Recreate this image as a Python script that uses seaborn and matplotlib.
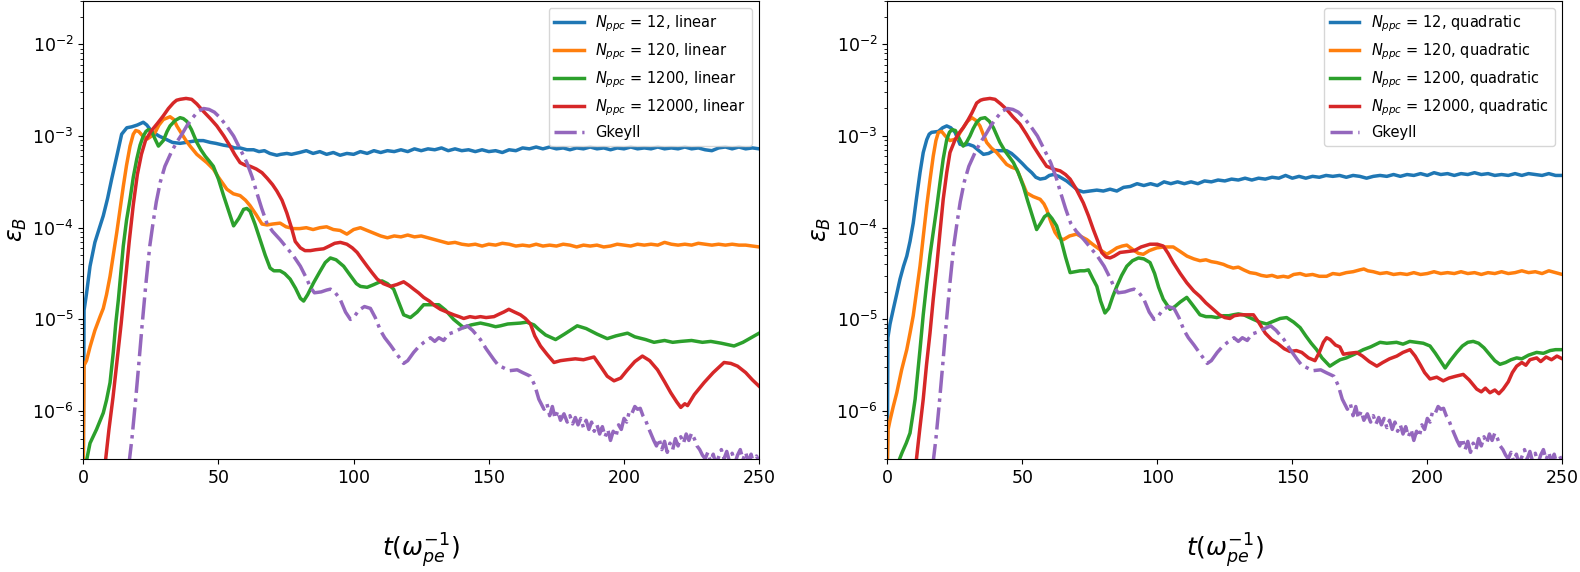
import numpy as np
import matplotlib
matplotlib.use('Agg')
import matplotlib.pyplot as plt
import seaborn as sns

# ── Data: (t, log10 eps_B) ─────────────────────────────────────────────────────
BLUE_LIN = [
    (0, -6.6), (0.3, -4.9), (1.2, -4.72), (2.5, -4.42), (4.3, -4.16), (6, -4.0),
    (7.4, -3.87), (9, -3.68), (10.5, -3.47), (12.4, -3.22), (14.2, -2.98),
    (16.1, -2.91), (17.9, -2.90), (20, -2.88), (22.2, -2.85), (23.5, -2.88),
    (25.3, -2.95), (28, -3.0), (30.9, -3.04), (33, -3.07), (35.8, -3.08),
    (38, -3.07), (40, -3.06), (42, -3.05), (44.4, -3.05), (47, -3.07), (49, -3.08),
    (51.9, -3.10), (54, -3.11), (56, -3.13), (58, -3.13), (60.5, -3.15), (63, -3.15),
    (65, -3.17), (67, -3.16), (69, -3.19), (71.6, -3.21), (73, -3.20), (75.3, -3.19),
    (77, -3.20), (80, -3.18), (82.5, -3.16), (85, -3.19), (87.5, -3.17), (90, -3.20),
    (92.5, -3.18), (95, -3.21), (97.5, -3.19), (100, -3.20), (102.5, -3.17),
    (105, -3.19), (107.5, -3.16), (110, -3.18), (112.5, -3.16), (115, -3.17),
    (117.5, -3.15), (120, -3.17), (122.5, -3.14), (125, -3.16), (127.5, -3.14),
    (130, -3.15), (132.5, -3.13), (135, -3.16), (137.5, -3.14), (140, -3.16),
    (142.5, -3.15), (145, -3.17), (147.5, -3.15), (150, -3.17), (152.5, -3.16),
    (155, -3.18), (157.5, -3.15), (160, -3.16), (162.5, -3.13), (165, -3.14),
    (167.5, -3.12), (170, -3.14), (172.5, -3.12), (175, -3.14), (177.5, -3.13),
    (180, -3.15), (182.5, -3.13), (185, -3.14), (187.5, -3.12), (190, -3.14),
    (192.5, -3.13), (195, -3.15), (197.5, -3.13), (200, -3.14), (202.5, -3.12),
    (205, -3.14), (207.5, -3.13), (210, -3.14), (212.5, -3.12), (215, -3.14),
    (217.5, -3.13), (220, -3.14), (222.5, -3.12), (225, -3.14), (227.5, -3.13),
    (230, -3.15), (232.5, -3.16), (235, -3.13), (237.5, -3.12), (240, -3.14),
    (242.5, -3.12), (245, -3.14), (247.5, -3.13), (250, -3.14),
]

ORANGE_LIN = [
    (0, -6.6), (0.3, -5.5), (1.2, -5.45), (2.5, -5.3), (4.3, -5.12), (6.2, -4.97),
    (7.4, -4.88), (8.6, -4.73), (9.9, -4.53), (11.1, -4.3), (12.4, -4.05),
    (13.6, -3.8), (14.8, -3.55), (16, -3.32), (17.3, -3.11), (18.5, -2.98),
    (19.4, -2.94), (20.5, -2.95), (22, -3.0), (23.8, -3.03), (25.3, -3.0),
    (26.6, -2.96), (28, -2.88), (29.6, -2.82), (32.1, -2.79), (33.5, -2.82),
    (34.6, -2.89), (36.5, -2.98), (38, -3.05), (39.5, -3.11), (42, -3.2),
    (45.7, -3.29), (48.1, -3.36), (50, -3.45), (53.1, -3.58), (55.5, -3.63),
    (58, -3.65), (60, -3.70), (61.7, -3.76), (64, -3.86), (66.1, -3.96), (68, -3.97),
    (70, -3.96), (72.8, -3.95), (75, -3.99), (77.8, -4.01), (80, -4.01),
    (82.5, -4.00), (85, -4.02), (87.5, -4.00), (90, -3.99), (92.5, -4.02),
    (95, -4.03), (97.5, -4.07), (100, -4.02), (102.5, -4.00), (105, -4.03),
    (107.5, -4.06), (110, -4.09), (112.5, -4.11), (115, -4.09), (117.5, -4.10),
    (120, -4.08), (122.5, -4.10), (125, -4.09), (127.5, -4.11), (130, -4.13),
    (132.5, -4.15), (135, -4.17), (137.5, -4.16), (140, -4.18), (142.5, -4.19),
    (145, -4.18), (147.5, -4.20), (150, -4.18), (152.5, -4.19), (155, -4.17),
    (157.5, -4.18), (160, -4.20), (162.5, -4.19), (165, -4.20), (167.5, -4.18),
    (170, -4.20), (172.5, -4.19), (175, -4.20), (177.5, -4.18), (180, -4.19),
    (182.5, -4.21), (185, -4.19), (187.5, -4.20), (190, -4.19), (192.5, -4.21),
    (195, -4.20), (197.5, -4.18), (200, -4.19), (202.5, -4.20), (205, -4.18),
    (207.5, -4.19), (210, -4.18), (212.5, -4.19), (215, -4.16), (217.5, -4.18),
    (220, -4.19), (222.5, -4.18), (225, -4.19), (227.5, -4.17), (230, -4.18),
    (232.5, -4.19), (235, -4.18), (237.5, -4.19), (240, -4.18), (242.5, -4.19),
    (245, -4.19), (247.5, -4.20), (250, -4.21),
]

GREEN_LIN = [
    (0.8, -6.6), (2.5, -6.35), (4.9, -6.2), (7.4, -6.02), (8.6, -5.88), (9.9, -5.69),
    (11.1, -5.36), (12, -5.05), (13.0, -4.78), (14.8, -4.20), (16, -3.92),
    (17.3, -3.69), (18.5, -3.45), (19.8, -3.25), (21, -3.1), (22.2, -3.0),
    (23.2, -2.95), (24.1, -2.93), (25.3, -2.95), (26.5, -3.03), (27.8, -3.11),
    (29.6, -3.05), (31, -2.95), (32.1, -2.89), (34, -2.83), (35.8, -2.80),
    (37, -2.81), (38.3, -2.84), (40, -2.93), (42, -3.07), (43.5, -3.15),
    (45.1, -3.22), (46.5, -3.27), (48.1, -3.33), (50, -3.47), (51.9, -3.65),
    (53.8, -3.82), (55.6, -3.98), (57.5, -3.90), (59.3, -3.80), (60.5, -3.79),
    (61.7, -3.82), (63.5, -3.96), (65.4, -4.13), (67.3, -4.30), (69.1, -4.44),
    (70.5, -4.47), (72.8, -4.47), (74.5, -4.50), (76.5, -4.56), (78.5, -4.66),
    (80.3, -4.77), (81.5, -4.80), (83, -4.73), (85.2, -4.60), (87.5, -4.48),
    (89.5, -4.38), (91.4, -4.33), (93.5, -4.35), (96.3, -4.42), (99, -4.53),
    (101, -4.61), (102.5, -4.64), (105, -4.65), (107.5, -4.62), (110.5, -4.58),
    (112.5, -4.61), (114.8, -4.67), (116.5, -4.80), (118.5, -4.95), (121, -4.98),
    (123.5, -4.92), (125.9, -4.84), (128.5, -4.84), (131.5, -4.84), (134, -4.90),
    (137, -5.0), (140.7, -5.09), (143.5, -5.06), (146.9, -5.04), (150, -5.06),
    (152.5, -5.08), (154.3, -5.07), (157, -5.05), (161.7, -5.04), (164, -5.03),
    (166.7, -5.06), (168.5, -5.11), (171, -5.17), (174.7, -5.22), (178, -5.16),
    (182.7, -5.07), (186, -5.10), (190, -5.16), (193.8, -5.21), (197, -5.18),
    (201.3, -5.15), (204, -5.19), (208, -5.22), (211.1, -5.25), (215, -5.23),
    (218, -5.25), (221, -5.24), (225, -5.23), (229, -5.25), (232.1, -5.24),
    (236, -5.26), (240.7, -5.29), (244, -5.25), (247, -5.20), (250, -5.15),
]

RED_LIN = [
    (8.0, -6.6), (9.5, -6.2), (11, -5.85), (12.5, -5.45), (14, -5.05), (15.5, -4.6),
    (17, -4.15), (18.5, -3.75), (20, -3.42), (21.5, -3.2), (23, -3.05),
    (25, -2.95), (27.5, -2.86), (29.6, -2.78), (31.5, -2.70), (33.3, -2.64),
    (34.5, -2.61), (35.8, -2.60), (38, -2.59), (40.1, -2.60), (42, -2.65),
    (44.4, -2.73), (47, -2.81), (49.4, -2.89), (52, -3.0), (54.3, -3.11),
    (56, -3.2), (58, -3.29), (60, -3.32), (61.7, -3.33), (64, -3.36), (66.1, -3.40),
    (68, -3.46), (70, -3.53), (71.6, -3.60), (73.5, -3.70), (75.3, -3.84),
    (77, -4.00), (78.4, -4.15), (80.3, -4.22), (82, -4.25), (84, -4.25),
    (86, -4.24), (88.9, -4.23), (91, -4.20), (93, -4.17), (95.1, -4.16),
    (97.5, -4.18), (99.5, -4.22), (101.3, -4.27), (103, -4.34), (105, -4.42),
    (106.8, -4.49), (108.7, -4.56), (111, -4.61), (113.6, -4.64), (116, -4.62),
    (118.5, -4.59), (120.5, -4.63), (122.2, -4.67), (124, -4.71), (125.9, -4.76),
    (128, -4.80), (130, -4.85), (132.1, -4.89), (134.5, -4.92), (137, -4.95),
    (139, -4.97), (140.7, -4.99), (143, -4.97), (145, -4.98), (146.9, -4.97),
    (149, -4.98), (151.9, -4.97), (154, -4.94), (155.5, -4.92), (157.4, -4.89),
    (159.5, -4.92), (161.7, -4.95), (163.5, -4.99), (165.4, -5.05), (167, -5.18),
    (169.1, -5.29), (171.5, -5.38), (174.1, -5.47), (176.5, -5.45), (179, -5.44),
    (182, -5.43), (185, -5.44), (188.9, -5.41), (191.5, -5.52), (193.8, -5.62),
    (196.3, -5.67), (198.8, -5.64), (201, -5.56), (204, -5.46), (206.8, -5.40),
    (209.5, -5.45), (212.4, -5.55), (215, -5.68), (217.3, -5.80), (219.5, -5.90),
    (221, -5.96), (222.5, -5.92), (223.5, -5.94), (226, -5.82), (229.6, -5.69),
    (233, -5.58), (237, -5.47), (239.5, -5.48), (242, -5.51), (245, -5.58),
    (247.5, -5.66), (250, -5.73),
]

BLUE_QUAD = [
    (0, -6.6), (0.2, -5.2), (1, -5.05), (2.2, -4.89), (3.5, -4.72), (4.7, -4.56),
    (6, -4.42), (7.2, -4.31), (8.4, -4.15), (9.6, -3.95), (10.8, -3.68),
    (12.1, -3.40), (13.3, -3.18), (14.6, -3.04), (15.5, -2.98), (16.4, -2.96),
    (18.9, -2.95), (20.5, -2.91), (22, -2.89), (23.5, -2.91), (25.1, -2.96),
    (26.9, -3.09), (28.5, -3.10), (30, -3.09), (31.9, -3.11), (33.5, -3.15),
    (35.6, -3.20), (37.5, -3.19), (39.3, -3.16), (42, -3.16), (44.2, -3.16),
    (46, -3.19), (47.9, -3.24), (50, -3.30), (51.6, -3.35), (53.5, -3.40),
    (55, -3.45), (56.6, -3.47), (58.5, -3.46), (60, -3.43), (61.5, -3.42),
    (63.5, -3.44), (66.4, -3.49), (68.5, -3.54), (70.5, -3.59), (72.6, -3.61),
    (75, -3.60), (77.6, -3.59), (80, -3.60), (82.5, -3.58), (85, -3.60),
    (87.5, -3.56), (90, -3.55), (92.5, -3.52), (95, -3.54), (97.5, -3.52),
    (100, -3.54), (102.5, -3.50), (105, -3.52), (107.5, -3.50), (110, -3.52),
    (112.5, -3.50), (115, -3.52), (117.5, -3.49), (120, -3.50), (122.5, -3.48),
    (125, -3.49), (127.5, -3.47), (130, -3.48), (132.5, -3.46), (135, -3.48),
    (137.5, -3.46), (140, -3.47), (142.5, -3.45), (145, -3.46), (147.5, -3.43),
    (150, -3.46), (152.5, -3.44), (155, -3.46), (157.5, -3.44), (160, -3.45),
    (162.5, -3.43), (165, -3.44), (167.5, -3.43), (170, -3.45), (172.5, -3.43),
    (175, -3.44), (177.5, -3.46), (180, -3.44), (182.5, -3.43), (185, -3.44),
    (187.5, -3.42), (190, -3.44), (192.5, -3.42), (195, -3.43), (197.5, -3.41),
    (200, -3.43), (202.5, -3.40), (205, -3.42), (207.5, -3.41), (210, -3.43),
    (212.5, -3.41), (215, -3.42), (217.5, -3.40), (220, -3.42), (222.5, -3.41),
    (225, -3.43), (227.5, -3.42), (230, -3.43), (232.5, -3.41), (235, -3.43),
    (237.5, -3.41), (240, -3.42), (242.5, -3.43), (245, -3.41), (247.5, -3.43),
    (250, -3.43),
]

ORANGE_QUAD = [
    (0, -6.6), (0.3, -6.2), (1.0, -6.1), (2.2, -5.95), (3.5, -5.80), (5.3, -5.55),
    (7.2, -5.33), (8.4, -5.15), (9.6, -4.96), (10.8, -4.70), (12.1, -4.42),
    (13.3, -4.1), (14.6, -3.76), (15.8, -3.48), (17.0, -3.22), (18, -3.05),
    (18.9, -2.96), (20.1, -2.95), (21.5, -3.0), (23.2, -3.05), (25.7, -3.03),
    (27, -2.96), (28.1, -2.91), (29.7, -2.84), (31.3, -2.80), (32.8, -2.83),
    (34.3, -2.89), (35.5, -2.98), (36.8, -3.07), (38.5, -3.13), (40.5, -3.18),
    (42.5, -3.25), (44.2, -3.31), (46, -3.34), (47.9, -3.36), (49.5, -3.47),
    (51.6, -3.62), (54, -3.66), (56.6, -3.69), (58, -3.74), (59, -3.80),
    (60.5, -3.93), (62.1, -4.05), (63.5, -4.11), (65.2, -4.13), (67.5, -4.09),
    (70.1, -4.07), (72, -4.10), (73.9, -4.13), (76, -4.18), (78.8, -4.24),
    (81.3, -4.29), (83.5, -4.25), (85, -4.22), (87, -4.20), (88.7, -4.19),
    (91, -4.24), (93, -4.28), (94.8, -4.29), (97, -4.25), (99.8, -4.22),
    (102.5, -4.21), (105.9, -4.21), (108.5, -4.26), (111, -4.31), (113.5, -4.34),
    (115.8, -4.36), (118, -4.35), (120, -4.37), (122, -4.38), (124.5, -4.40),
    (126, -4.42), (128.1, -4.44), (130, -4.43), (132, -4.46), (134.3, -4.49),
    (136.5, -4.50), (138.5, -4.52), (140.5, -4.53), (142.5, -4.52), (144.5, -4.54),
    (146.7, -4.53), (148.5, -4.54), (150.5, -4.51), (152.9, -4.50), (155, -4.52),
    (157.5, -4.51), (160, -4.53), (162.7, -4.53), (165, -4.50), (167.5, -4.51),
    (170, -4.49), (172.5, -4.48), (175, -4.46), (176.5, -4.45), (178, -4.47),
    (180, -4.48), (182.5, -4.50), (185, -4.49), (187.5, -4.51), (190, -4.50),
    (192.5, -4.51), (195, -4.49), (197.5, -4.51), (200, -4.50), (202.5, -4.48),
    (205, -4.50), (207.5, -4.49), (210, -4.50), (212.5, -4.48), (215, -4.50),
    (217.5, -4.49), (220, -4.51), (222.5, -4.49), (225, -4.50), (227.5, -4.48),
    (230, -4.50), (232.5, -4.49), (235, -4.47), (237.5, -4.49), (240, -4.48),
    (242.5, -4.50), (245, -4.47), (247.5, -4.49), (250, -4.51),
]

GREEN_QUAD = [
    (3.5, -6.6), (5.5, -6.45), (7, -6.35), (8.4, -6.24), (9.4, -6.05), (10.3, -5.87),
    (11.2, -5.6), (12.1, -5.33), (13.3, -4.95), (14.6, -4.60), (15.8, -4.3),
    (17.0, -4.05), (18.3, -3.78), (19.5, -3.51), (20.7, -3.25), (22.0, -3.04),
    (23, -2.96), (23.9, -2.93), (25.2, -2.94), (26.5, -3.02), (28.1, -3.11),
    (29.3, -3.07), (30.6, -3.0), (31.8, -2.92), (33.1, -2.85), (34.5, -2.81),
    (36.2, -2.80), (37.8, -2.84), (39.3, -2.91), (40.5, -2.99), (41.7, -3.07),
    (43.5, -3.16), (45, -3.22), (46.7, -3.29), (48.5, -3.40), (50.4, -3.55),
    (52, -3.71), (53.8, -3.88), (55.3, -4.02), (56.8, -3.95), (58.2, -3.88),
    (59.6, -3.85), (61, -3.90), (62.7, -3.98), (64.5, -4.15), (66, -4.32),
    (67.7, -4.49), (69.5, -4.48), (71.4, -4.47), (73, -4.47), (74.5, -4.46),
    (76, -4.55), (77.6, -4.64), (79, -4.80), (80.6, -4.93), (82, -4.88),
    (83.5, -4.75), (85, -4.64), (86.8, -4.52), (88.7, -4.42), (90.8, -4.36),
    (93, -4.33), (95, -4.34), (97.3, -4.38), (99, -4.50), (100.5, -4.65),
    (102.2, -4.78), (104.7, -4.89), (106.5, -4.86), (108.5, -4.81), (110.9, -4.76),
    (113, -4.84), (115.8, -4.95), (118, -4.97), (120, -4.97), (122, -4.98),
    (124.5, -4.96), (126.5, -4.96), (128.1, -4.95), (130, -4.94), (132, -4.95),
    (135.6, -5.0), (138, -5.03), (140.5, -5.05), (143, -5.02), (145.5, -4.99),
    (147.9, -4.98), (150.5, -5.03), (152.9, -5.09), (155, -5.18), (157, -5.26),
    (159, -5.33), (161, -5.42), (163.9, -5.51), (166, -5.47), (167.7, -5.44),
    (170, -5.42), (173, -5.38), (176.3, -5.33), (179, -5.30), (182.5, -5.25),
    (185, -5.26), (188.6, -5.25), (191, -5.27), (193.5, -5.24), (196.1, -5.25),
    (198.5, -5.26), (201, -5.29), (203, -5.37), (205, -5.46), (206.6, -5.53),
    (208.5, -5.45), (210.9, -5.36), (213, -5.29), (215, -5.25), (217, -5.24),
    (219, -5.26), (221, -5.31), (223, -5.38), (225, -5.45), (226.9, -5.49),
    (229, -5.47), (231, -5.44), (233.1, -5.42), (235, -5.43), (237.5, -5.39),
    (240.5, -5.36), (243, -5.37), (245.5, -5.34), (247.5, -5.33), (250, -5.33),
]

RED_QUAD = [
    (10.5, -6.6), (12, -6.2), (13.3, -5.87), (14.5, -5.5), (15.8, -5.15), (17, -4.78),
    (18.3, -4.42), (19.5, -4.05), (20.7, -3.69), (22, -3.4), (23.2, -3.18),
    (25.1, -3.04), (26.5, -2.97), (28.1, -2.91), (29.8, -2.83), (31.3, -2.75),
    (33.1, -2.64), (34.5, -2.61), (35.6, -2.60), (38, -2.59), (39.9, -2.60),
    (42, -2.65), (44.2, -2.71), (46.5, -2.79), (49.1, -2.87), (51.5, -2.98),
    (54.1, -3.11), (56.5, -3.22), (59, -3.33), (61.5, -3.36), (64, -3.38),
    (66, -3.42), (67.7, -3.47), (70, -3.58), (72.6, -3.73), (74.5, -3.87),
    (76.3, -4.02), (78, -4.15), (79.4, -4.27), (81, -4.32), (82.5, -4.33),
    (84, -4.31), (86.2, -4.27), (89, -4.26), (91.5, -4.25), (94, -4.21),
    (97.3, -4.18), (100, -4.18), (102.2, -4.20), (104, -4.28), (105.9, -4.38),
    (108.5, -4.50), (110.9, -4.60), (113.5, -4.69), (115.8, -4.75), (118, -4.82),
    (120.7, -4.89), (123, -4.95), (125, -4.98), (126.9, -4.99), (128.5, -4.96),
    (130.6, -4.95), (133, -4.95), (135.6, -4.95), (137.5, -5.03), (140, -5.15),
    (142.3, -5.22), (144.5, -5.26), (147, -5.32), (149.1, -5.35), (151.5, -5.34),
    (153.5, -5.36), (156, -5.42), (158.4, -5.45), (160, -5.36), (161.5, -5.25),
    (162.7, -5.20), (164, -5.22), (166, -5.28), (167.6, -5.30), (168.9, -5.38),
    (171, -5.37), (173.8, -5.36), (176, -5.40), (178.5, -5.46), (181.3, -5.51),
    (183.5, -5.47), (186, -5.43), (188.7, -5.40), (191, -5.36), (193.6, -5.33),
    (195.5, -5.40), (197.5, -5.50), (199, -5.58), (201, -5.65), (203.5, -5.63),
    (205.9, -5.67), (208, -5.64), (210.5, -5.62), (213.3, -5.60), (215.5, -5.66),
    (218.3, -5.76), (220, -5.79), (221.5, -5.75), (223.2, -5.80), (225, -5.77),
    (226.5, -5.81), (228.1, -5.76), (230, -5.68), (231.5, -5.58), (233.1, -5.51),
    (235, -5.47), (236.5, -5.50), (238, -5.44), (240.5, -5.42), (242, -5.46),
    (244, -5.41), (246, -5.44), (248, -5.40), (250, -5.43),
]

# Gkeyll reference is the same run in both panels
GKEYLL = [
    (16.8, -6.6), (18, -6.3), (19.3, -5.9), (20.5, -5.5), (21.8, -5.05),
    (23.2, -4.6), (24.6, -4.2), (25.8, -3.95), (27, -3.72), (28.5, -3.5),
    (30.2, -3.33), (32.5, -3.18), (34.5, -3.07), (36.5, -2.98), (38.5, -2.88),
    (40.5, -2.80), (42.5, -2.73), (44.5, -2.70), (46.5, -2.71), (48.5, -2.74),
    (50.6, -2.80), (53, -2.89), (55.6, -3.0), (58, -3.14), (60.5, -3.29),
    (62.5, -3.45), (64.2, -3.62), (66, -3.79), (67.9, -3.95), (70, -4.04),
    (72.8, -4.13), (75, -4.21), (77.8, -4.31), (80.3, -4.42), (82.7, -4.56),
    (84, -4.65), (85.5, -4.71), (88, -4.70), (90, -4.68), (91.4, -4.67),
    (93, -4.70), (95, -4.78), (97, -4.92), (98.8, -5.0), (100, -4.98),
    (101.9, -4.90), (104, -4.86), (106.2, -4.88), (108, -4.98), (109.9, -5.12),
    (111.5, -5.20), (113.6, -5.28), (116, -5.38), (118.5, -5.48), (120, -5.45),
    (122.2, -5.36), (124, -5.30), (126, -5.25), (128.4, -5.20), (130, -5.24),
    (131.5, -5.20), (133.3, -5.23), (135, -5.16), (137, -5.14), (139, -5.11),
    (142, -5.07), (144, -5.12), (146.9, -5.22), (149, -5.32), (151.9, -5.44),
    (153.5, -5.50), (155.6, -5.53), (157.5, -5.56), (160.5, -5.55), (162.5, -5.58),
    (165.4, -5.62), (167, -5.72), (168.5, -5.87), (170.4, -5.98), (171.5, -5.92),
    (172.5, -6.05), (173.5, -5.95), (174.5, -6.08), (175.5, -6.00), (176.5, -6.10),
    (177.8, -6.03), (179, -6.12), (180, -6.05), (181, -6.14), (182, -6.07),
    (183, -6.15), (184, -6.08), (185, -6.18), (186, -6.10), (187, -6.20),
    (188, -6.12), (189, -6.22), (190, -6.15), (191, -6.25), (192, -6.17),
    (193, -6.28), (194, -6.20), (195, -6.32), (196, -6.22), (197, -6.28),
    (198, -6.15), (199, -6.20), (200, -6.08), (201, -6.12), (202, -6.0),
    (203, -6.02), (204, -5.95), (205, -5.98), (206, -5.97), (207, -6.05),
    (208, -6.10), (209, -6.18), (210, -6.25), (211, -6.32), (212, -6.38),
    (213, -6.30), (214, -6.42), (215, -6.33), (216, -6.45), (217, -6.35),
    (218, -6.42), (219, -6.30), (220, -6.38), (221, -6.28), (222, -6.35),
    (223, -6.25), (224, -6.32), (225, -6.24), (226, -6.30), (227, -6.38),
    (228, -6.42), (229, -6.48), (230, -6.52), (231, -6.45), (232, -6.55),
    (233, -6.47), (234, -6.58), (235, -6.50), (236, -6.42), (237, -6.52),
    (238, -6.44), (239, -6.55), (240, -6.46), (241, -6.57), (242, -6.48),
    (243, -6.42), (244, -6.53), (245, -6.45), (246, -6.56), (247, -6.47),
    (248, -6.58), (249, -6.49), (250, -6.55),
]

NPPC = ['12', '120', '1200', '12000']
PANELS = [
    ('linear', [BLUE_LIN, ORANGE_LIN, GREEN_LIN, RED_LIN]),
    ('quadratic', [BLUE_QUAD, ORANGE_QUAD, GREEN_QUAD, RED_QUAD]),
]

colors = sns.color_palette('tab10')
LW = 2.5


def to_xy(pairs):
    arr = np.array(pairs, dtype=float)
    return arr[:, 0], 10.0 ** arr[:, 1]


def draw_panel(ax, shape, runs):
    for i, (n, run) in enumerate(zip(NPPC, runs)):
        t, eps = to_xy(run)
        sns.lineplot(x=t, y=eps, ax=ax, color=colors[i], lw=LW,
                     estimator=None, sort=False,
                     label=rf'$N_{{ppc}}$ = {n}, {shape}')
    t, eps = to_xy(GKEYLL)
    sns.lineplot(x=t, y=eps, ax=ax, color=colors[4], lw=LW, linestyle='-.',
                 estimator=None, sort=False, label='Gkeyll')

    ax.set_yscale('log')
    ax.set_xlim(0, 250)
    ax.set_ylim(3e-7, 3e-2)
    ax.set_xticks([0, 50, 100, 150, 200, 250])
    ax.tick_params(axis='both', labelsize=12.5)
    ax.set_xlabel(r'$t(\omega_{pe}^{-1})$', fontsize=18, labelpad=32)
    ax.set_ylabel(r'$\varepsilon_B$', fontsize=17, labelpad=2)
    ax.legend(loc='upper right', fontsize=10.5)


fig = plt.figure(figsize=(15.8, 5.72), dpi=100)
ax1 = fig.add_axes([0.0527, 0.1975, 0.4278, 0.8015])
ax2 = fig.add_axes([0.5616, 0.1975, 0.4272, 0.8015])

for ax, (shape, runs) in zip([ax1, ax2], PANELS):
    draw_panel(ax, shape, runs)

fig.savefig('out.png', dpi=100)
